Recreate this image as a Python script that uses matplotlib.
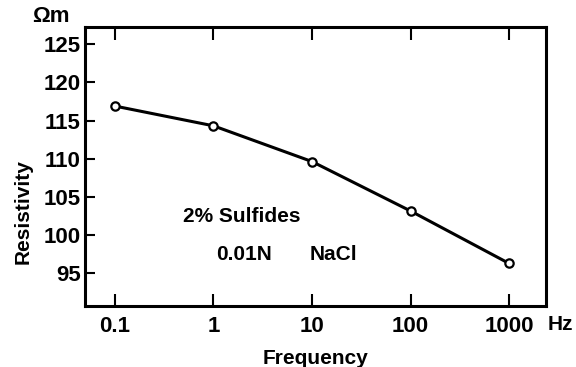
import matplotlib.pyplot as plt

plt.rcParams["font.family"] = ["Liberation Sans", "DejaVu Sans"]
plt.rcParams["font.weight"] = "bold"

freq = [0.1, 1, 10, 100, 1000]
resistivity = [116.9, 114.3, 109.6, 103.1, 96.2]
y_ticks = [95, 100, 105, 110, 115, 120, 125]
x_ticks = [0.1, 1, 10, 100, 1000]
x_labels = ["0.1", "1", "10", "100", "1000"]

W, H = 576, 367
fig = plt.figure(figsize=(W / 100, H / 100), dpi=100)
ax = fig.add_axes([85 / W, 1 - 306 / H, (546 - 85) / W, (306 - 27) / H])

ax.plot(freq, resistivity, color="black", lw=2.2, zorder=2)
ax.plot(freq, resistivity, "o", ms=6, mfc="white", mec="black", mew=1.6, zorder=3)

ax.set_xscale("log")
ax.set_xlim(0.0497, 2370)
ax.set_ylim(90.6, 127.3)

ax.set_xticks(x_ticks)
ax.set_xticklabels(x_labels)
ax.minorticks_off()
ax.set_yticks(y_ticks)

ax.tick_params(axis="x", direction="in", length=9, width=1.5, labelsize=16,
               pad=7, top=True)
ax.tick_params(axis="y", direction="in", length=7, width=1.5, labelsize=16,
               pad=3)
for s in ax.spines.values():
    s.set_linewidth(2.2)

ax.set_xlabel("Frequency", fontsize=15, fontweight="bold", labelpad=9)
fig.text(23 / W, 1 - 212 / H, "Resistivity", rotation=90, fontsize=15,
         fontweight="bold", ha="center", va="center")
fig.text(51 / W, 1 - 17 / H, "Ωm", fontsize=16, fontweight="bold",
         ha="center", va="center")
fig.text(560 / W, 1 - 325 / H, "Hz", fontsize=15, fontweight="bold",
         ha="center", va="center")

fig.text(242 / W, 1 - 217 / H, "2% Sulfides", fontsize=15, fontweight="bold",
         ha="center", va="center")
fig.text(244 / W, 1 - 255 / H, "0.01N", fontsize=15, fontweight="bold",
         ha="center", va="center")
fig.text(333 / W, 1 - 255 / H, "NaCl", fontsize=15, fontweight="bold",
         ha="center", va="center")

fig.savefig("out.png", dpi=100)
